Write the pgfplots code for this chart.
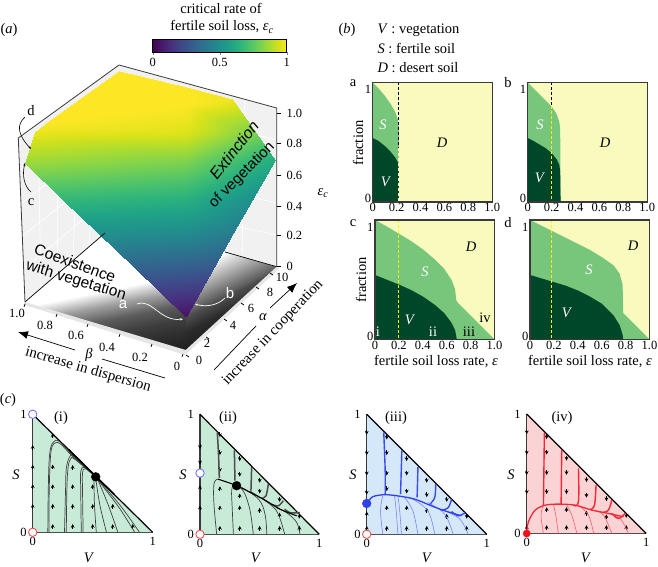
\documentclass[border=0pt]{standalone}
\usepackage{fontspec}
\setmainfont{Liberation Serif}
\newfontfamily\hv{Liberation Sans}
\usepackage{pgfplots}
\pgfplotsset{compat=1.18}
\usetikzlibrary{arrows.meta}

\definecolor{Dsoil}{HTML}{F8FBBD}
\definecolor{Ssoil}{HTML}{78C67C}
\definecolor{Veg}{HTML}{00472A}
\definecolor{wall}{HTML}{F1F1F1}
\definecolor{rimc}{HTML}{E6E6E6}
\definecolor{mint}{HTML}{C8EBD8}
\definecolor{skyb}{HTML}{D4E8FA}
\definecolor{pinkr}{HTML}{FCD3D5}
\definecolor{tblue}{HTML}{1A2BE8}
\definecolor{tred}{HTML}{F0101E}
\definecolor{frame}{HTML}{3A3A3A}

% canvas axis: coordinates are pixels of the reference
\pgfplotsset{
  canvas/.style={at={(0pt,0pt)},anchor=south west,width=658pt,height=567pt,scale only axis,
    xmin=0,xmax=658,ymin=0,ymax=567,y dir=reverse,hide axis,clip=false,
    point meta min=0,point meta max=1},
  tick font/.style={tick label style={font=\fontsize{12.5}{14}\selectfont},
    /pgf/number format/assume math mode=true},
  frac/.style={scale only axis,width=119.5pt,height=119.5pt,anchor=south west,xmin=0,xmax=1,ymin=0,ymax=1,
    xtick={0,0.2,0.4,0.6,0.8,1},xticklabels={0,0.2,0.4,0.6,0.8,1.0},
    ytick={0.03,0.94},yticklabels={0,1},major tick length=0pt,tick font,
    axis line style={frame,line width=1.2pt},axis background/.style={fill=Dsoil},
    xticklabel style={yshift=2pt},yticklabel style={xshift=2pt},clip=true,axis on top},
  simplex/.style={scale only axis,width=120pt,height=120pt,anchor=south west,xmin=0,xmax=1,ymin=0,ymax=1,
    xtick={0,1},ytick={0,1},major tick length=0pt,tick font,axis x line=bottom,axis y line=left,
    axis line style={-,black,line width=1pt},clip=false,
    xticklabel style={yshift=-1pt},yticklabel style={xshift=-2.5pt}},
  up/.style={quiver={u=0,v=0.04},-{Stealth[length=3.8pt,width=3.8pt]},black,line width=1pt,forget plot},
  down/.style={quiver={u=0,v=-0.04},-{Stealth[length=3.8pt,width=3.8pt]},black,line width=1pt,forget plot},
  thick traj/.style={line width=1pt,smooth,tension=.6},
  thin traj/.style={line width=.45pt,smooth,tension=.6},
  fp/.style={only marks,mark=*,mark size=#1,forget plot},
}
\newcommand{\lab}[4][]{\node[#1] at (axis cs:#2,#3) {#4};}

\begin{document}
\begin{tikzpicture}[font=\fontsize{14.5}{16}\selectfont]

% ---- panel a: walls and floor
\begin{axis}[canvas,colormap/blackwhite]
\addplot[fill=wall,draw=none] coordinates {(25,302)(18.3,138)(119,65)(105,233)} -- cycle;
\addplot[fill=wall,draw=none] coordinates {(105,233)(119,65)(276.7,108)(276.7,266.7)} -- cycle;
% white grid on the walls
\foreach \a/\b/\c/\d in {41/288/38/123,57/274/58/109,73/261/79/94,89/247/99/80,
  23.7/269/107.8/199,22.3/236/110.6/166,21/203.6/113.4/132,19.6/171/116.2/99,
  139/240/151/74,174/246/182/82,208/253/214/91,242/260/245/99,
  107.8/199/276.7/235,110.6/166/276.7/203,113.4/132/276.7/171,116.2/99/276.7/140}{
  \edef\tmp{\noexpand\addplot[white,line width=.7pt,forget plot] coordinates {(\a,\b)(\c,\d)};}\tmp
}
% white floor under the shading
\addplot[fill=white,draw=none] coordinates {(25,302)(105,233)(276.7,266.7)(185.7,350)} -- cycle;
% shaded floor, left part
\addplot[patch,patch type=rectangle,shader=interp,point meta=explicit] table[meta=g] {
x y g
34.3 304.7 1
64.4 313.7 0.62
185.7 289.5 0.62
185.7 274.5 1
64.4 313.7 0.62
94.4 322.7 0.36
185.7 304.5 0.36
185.7 289.5 0.62
94.4 322.7 0.36
124.5 331.7 0.24
185.7 319.5 0.24
185.7 304.5 0.36
124.5 331.7 0.24
154.6 340.7 0.17
185.7 334.5 0.17
185.7 319.5 0.24
154.6 340.7 0.17
185.7 350 0.12
185.7 350 0.12
185.7 334.5 0.17
};
% shaded floor, right part
\addplot[patch,patch type=rectangle,shader=interp,point meta=explicit] table[meta=g] {
x y g
185.7 350 0.12
229.1 310.2 0.17
185.7 332 0.17
185.7 350 0.12
229.1 310.2 0.17
265.2 277.2 0.3
185.7 317 0.3
185.7 332 0.17
265.2 277.2 0.3
276.7 266.7 0.38
185.7 312 0.38
185.7 317 0.3
276.7 266.7 0.38
225 252 1
185.7 272 1
185.7 312 0.38
};
\end{axis}

% ---- panel a: surface, edges, ticks
\begin{axis}[canvas,colormap/viridis]
\addplot[fill=rimc,draw=none] coordinates {(25,302)(185.7,350)(276.7,266.7)(279,269)(185,355)(23,304.5)} -- cycle;
% surface: rows of equal height, from the tip to the top
\addplot[patch,patch type=rectangle,shader=interp,point meta=explicit] table[meta=m] {
x y m
133.6 267 0.32
185.7 267 0.3
185.7 233 0.48
98 233 0.5
185.7 267 0.3
214 267 0.28
233.4 233 0.42
185.7 233 0.48
98 233 0.5
185.7 233 0.48
185.7 200 0.63
63.4 200 0.66
185.7 233 0.48
233.4 233 0.42
252 200 0.5
185.7 200 0.63
63.4 200 0.66
185.7 200 0.63
185.7 163 0.8
25 163.3 0.85
185.7 200 0.63
252 200 0.5
275 160 0.62
185.7 163 0.8
25 163.3 0.85
185.7 163 0.8
185.7 133 0.95
35 131.7 0.97
185.7 163 0.8
275 160 0.62
256 133 0.8
185.7 133 0.95
35 131.7 0.97
185.7 133 0.95
185.7 105 1
49.3 121.3 1
185.7 133 0.95
256 133 0.8
231.7 99 0.98
185.7 105 1
};
\addplot[patch,shader=interp,point meta=explicit] table[meta=m] {
x y m
185.7 316.7 0.04
133.6 267 0.32
185.7 267 0.3
185.7 316.7 0.04
185.7 267 0.3
214 267 0.28
49.3 121.3 1
185.7 105 1
119 71 1
185.7 105 1
119 71 1
185.7 87.5 1
185.7 105 1
185.7 87.5 1
231.7 99 0.98
};
\addplot[black,line width=.7pt,forget plot] coordinates {(25,302)(105,233)};
\addplot[black,line width=.7pt,forget plot] coordinates {(225,252)(276.7,266.7)};
\addplot[frame,line width=.8pt,forget plot] coordinates {(25,302)(18.3,138)(119,65)(276.7,108)(276.7,266.7)};
% axis ticks
\foreach \a/\b/\c/\d in {25/304/24/307,57/314/56/317,88/324/87/327,120/334/119/337,152/344/151/347,183/354/182/357,
  186/355/189/357,206/337/209/339,224/319/227/321,241/303/244/305,256/287/259/289,270/273/273/275,
  276.7/266.7/281/266.7,276.7/235/281/235,276.7/206.7/281/206.7,276.7/175/281/175,276.7/143.3/281/143.3,276.7/113.3/281/113.3}{
  \edef\tmp{\noexpand\addplot[black,line width=.7pt,forget plot] coordinates {(\a,\b)(\c,\d)};}\tmp
}
% axis-name rules and arrows
\addplot[black,line width=.7pt,forget plot] coordinates {(102,359)(165,378)};
\addplot[black,line width=.7pt,-{Latex[length=10pt,width=8pt]},forget plot] coordinates {(75,350)(18,332)};
\addplot[black,line width=.7pt,forget plot] coordinates {(214,370)(256,326)};
\addplot[black,line width=.7pt,-{Latex[length=10pt,width=8pt]},forget plot] coordinates {(270,308)(297,283)};
\end{axis}

% ---- colour bar
\begin{axis}[colormap/viridis,scale only axis,at={(152.7pt,515pt)},anchor=south west,width=134pt,height=13pt,
  xmin=0,xmax=1,ymin=0,ymax=1,ytick=\empty,xtick={0,0.5,1},xticklabels={0,0.5,1},tick font,
  xtick align=outside,xtick pos=bottom,major tick length=3pt,axis line style={line width=.9pt},
  point meta min=0,point meta max=1,axis on top]
\addplot[patch,patch type=rectangle,shader=interp,point meta=explicit] table[meta=m] {
x y m
0 0 0
1 0 1
1 1 1
0 1 0
};
\end{axis}

% ---- panel b: stacked fractions
\begin{axis}[frac,at={(372.7pt,365pt)}]
\addplot[fill=Ssoil,draw=none] coordinates {(0,0)(0,1)(0.05,0.95)(0.1,0.89)(0.15,0.82)(0.19,0.75)(0.21,0.69)(0.22,0.62)(0.22,0)} -- cycle;
\addplot[fill=Veg,draw=none] coordinates {(0,0)(0,0.535)(0.05,0.51)(0.1,0.47)(0.15,0.42)(0.19,0.37)(0.21,0.33)(0.22,0.27)(0.22,0)} -- cycle;
\addplot[black,densely dashed,line width=1pt] coordinates {(0.22,1)(0.22,0.45)};
\addplot[Dsoil,densely dashed,line width=1pt] coordinates {(0.22,0.45)(0.22,0)};
\end{axis}
\begin{axis}[frac,at={(527.7pt,365pt)}]
\addplot[fill=Ssoil,draw=none] coordinates {(0,0)(0,1)(0.05,0.95)(0.1,0.9)(0.15,0.85)(0.2,0.8)(0.24,0.74)(0.265,0.67)(0.272,0.6)(0.275,0)} -- cycle;
\addplot[fill=Veg,draw=none] coordinates {(0,0)(0,0.535)(0.05,0.51)(0.1,0.48)(0.15,0.45)(0.2,0.41)(0.24,0.36)(0.265,0.31)(0.272,0.25)(0.275,0)} -- cycle;
\addplot[black,densely dashed,line width=1pt] coordinates {(0.2,1)(0.2,0.8)};
\addplot[yellow,densely dashed,line width=1pt] coordinates {(0.2,0.8)(0.2,0)};
\end{axis}
\begin{axis}[frac,at={(375pt,227.5pt)}]
\addplot[fill=Ssoil,draw=none] coordinates {(0,0)(0,1)(0.1,0.945)(0.2,0.885)(0.3,0.825)(0.4,0.755)(0.5,0.67)(0.58,0.59)(0.64,0.5)(0.67,0.42)(0.68,0.33)(0.69,0.31)(1,0)} -- cycle;
\addplot[fill=Veg,draw=none] coordinates {(0,0)(0,0.54)(0.1,0.5)(0.2,0.46)(0.3,0.415)(0.4,0.36)(0.5,0.29)(0.58,0.22)(0.64,0.14)(0.67,0.08)(0.685,0)} -- cycle;
\addplot[yellow,densely dashed,line width=1pt] coordinates {(0.195,1)(0.195,0)};
\end{axis}
\begin{axis}[frac,at={(530pt,227.5pt)}]
\addplot[fill=Ssoil,draw=none] coordinates {(0,0)(0,1)(0.1,0.95)(0.2,0.9)(0.3,0.85)(0.4,0.8)(0.5,0.75)(0.6,0.69)(0.7,0.62)(0.75,0.55)(0.775,0.46)(0.78,0.22)(1,0)} -- cycle;
\addplot[fill=Veg,draw=none] coordinates {(0,0)(0,0.54)(0.1,0.51)(0.2,0.48)(0.3,0.45)(0.4,0.41)(0.5,0.36)(0.6,0.3)(0.7,0.2)(0.75,0.12)(0.775,0.04)(0.78,0)} -- cycle;
\addplot[yellow,densely dashed,line width=1pt] coordinates {(0.18,1)(0.18,0)};
\end{axis}

% ---- panel c (i)
\begin{axis}[simplex,at={(32.7pt,34.7pt)},width=120pt,height=118pt]
\addplot[fill=mint,draw=none,forget plot] coordinates {(0,0)(1,0)(0,1)} -- cycle;
\addplot[frame,line width=1.5pt,forget plot] coordinates {(0,0)(0,1)};
\addplot[black,line width=1.2pt,forget plot] coordinates {(0,1)(1,0)};
\addplot[up] coordinates {(0,0.2)(0,0.367)(0,0.533)(0,0.7)(0.167,0.03)(0.167,0.2)(0.167,0.367)(0.167,0.533)(0.167,0.8)(0.333,0.03)(0.333,0.2)(0.333,0.367)(0.333,0.53)(0.5,0.03)(0.5,0.2)(0.5,0.367)(0.667,0.03)(0.667,0.2)(0.833,0.03)};
\foreach \p in {{(0.126,0)(0.13,0.37)(0.14,0.65)(0.168,0.76)(0.223,0.77)(0.335,0.65)(0.525,0.47)},
 {(0.135,0)(0.138,0.37)(0.15,0.66)(0.175,0.75)(0.23,0.75)(0.335,0.64)(0.525,0.47)},
 {(0.265,0)(0.274,0.37)(0.28,0.54)(0.307,0.637)(0.35,0.64)(0.525,0.47)},
 {(0.28,0)(0.285,0.37)(0.295,0.55)(0.315,0.62)(0.35,0.62)(0.525,0.47)},
 {(0.405,0)(0.4,0.37)(0.4,0.51)(0.433,0.553)(0.525,0.47)},
 {(0.42,0)(0.415,0.37)(0.415,0.5)(0.44,0.54)(0.525,0.47)},
 {(0.53,0)(0.515,0.23)(0.51,0.46)},{(0.615,0)(0.56,0.23)(0.525,0.46)},{(0.71,0)(0.63,0.23)(0.545,0.44)},
 {(0.85,0)(0.726,0.2)(0.6,0.37)(0.525,0.47)},{(0.89,0)(0.75,0.2)(0.62,0.36)(0.525,0.47)}}{
  \edef\tmp{\noexpand\addplot[black!75,thin traj,line width=.7pt,forget plot] coordinates {\p};}\tmp
}
\addplot[black,line width=1.6pt,forget plot] coordinates {(0.3,0.7)(0.525,0.475)(0.68,0.32)};
\addplot[fp=4.4pt,black] coordinates {(0.525,0.47)};
\addplot[fp=4.2pt,mark options={fill=white,draw=blue!60,line width=.8pt}] coordinates {(0,1)};
\addplot[fp=4.2pt,mark options={fill=white,draw=red!75,line width=.8pt}] coordinates {(0,0)};
\end{axis}

% ---- panel c (ii)
\begin{axis}[simplex,at={(200pt,32.7pt)},width=119.3pt]
\addplot[fill=mint,draw=none,forget plot] coordinates {(0,0)(1,0)(0,1)} -- cycle;
\addplot[frame,line width=1.5pt,forget plot] coordinates {(0,0)(0,1)};
\addplot[black,line width=1.2pt,forget plot] coordinates {(0,1)(1,0)};
\addplot[up] coordinates {(0,0.2)(0,0.37)(0.167,0.03)(0.167,0.2)(0.167,0.36)(0.333,0.03)(0.333,0.2)(0.333,0.3)(0.5,0.03)(0.5,0.18)(0.667,0.03)(0.667,0.14)(0.833,0.03)};
\addplot[down] coordinates {(0,0.75)(0,0.62)(0.167,0.85)(0.167,0.7)(0.167,0.56)(0.333,0.65)(0.333,0.52)(0.5,0.47)(0.5,0.38)(0.667,0.31)(0.833,0.17)};
\foreach \p in {{(0.145,0.85)(0.155,0.67)(0.162,0.47)},{(0.288,0.7)(0.293,0.447)},{(0.433,0.56)(0.427,0.363)},
 {(0.573,0.42)(0.553,0.32)(0.517,0.3)},{(0.698,0.28)(0.656,0.237)(0.6,0.25)},{(0.838,0.18)(0.754,0.18)(0.71,0.21)}}{
  \edef\tmp{\noexpand\addplot[black!70,thick traj,line width=1.5pt,forget plot] coordinates {\p};}\tmp
}
\foreach \p in {{(0.14,0)(0.117,0.25)(0.117,0.42)(0.148,0.46)},{(0.28,0)(0.27,0.22)(0.265,0.36)(0.28,0.42)},
 {(0.447,0)(0.42,0.196)(0.377,0.335)(0.335,0.39)},{(0.56,0)(0.545,0.168)(0.49,0.293)(0.35,0.39)},
 {(0.71,0)(0.656,0.168)(0.587,0.25)(0.42,0.36)},{(0.838,0)(0.81,0.1)(0.726,0.18)(0.64,0.22)}}{
  \edef\tmp{\noexpand\addplot[black!75,thin traj,line width=.7pt,forget plot] coordinates {\p};}\tmp
}
\addplot[black,line width=1.1pt,smooth,forget plot] coordinates {(0.148,0.46)(0.307,0.405)(0.53,0.293)(0.67,0.21)(0.81,0.154)};
\addplot[fp=4.4pt,black] coordinates {(0.307,0.405)};
\addplot[fp=4.2pt,mark options={fill=white,draw=blue!60,line width=.8pt}] coordinates {(0,0.51)};
\addplot[fp=4.2pt,mark options={fill=white,draw=red!75,line width=.8pt}] coordinates {(0,0)};
\end{axis}

% ---- panel c (iii)
\begin{axis}[simplex,at={(366.7pt,32.7pt)}]
\addplot[fill=skyb,draw=none,forget plot] coordinates {(0,0)(1,0)(0,1)} -- cycle;
\addplot[frame,line width=1.5pt,forget plot] coordinates {(0,0)(0,1)};
\addplot[black,line width=1.2pt,forget plot] coordinates {(0,1)(1,0)};
\addplot[up] coordinates {(0,0.03)(0,0.15)(0.167,0.03)(0.167,0.2)(0.333,0.03)(0.333,0.2)(0.5,0.03)(0.5,0.18)(0.667,0.03)(0.667,0.13)(0.833,0.03)};
\addplot[down] coordinates {(0,0.87)(0,0.7)(0,0.53)(0,0.37)(0.167,0.83)(0.167,0.7)(0.167,0.53)(0.167,0.4)(0.333,0.65)(0.333,0.53)(0.333,0.38)(0.5,0.47)(0.5,0.35)(0.667,0.31)(0.833,0.17)};
\foreach \p in {{(0.142,0.85)(0.154,0.53)(0.154,0.335)},{(0.293,0.7)(0.282,0.335)},{(0.427,0.56)(0.42,0.307)},
 {(0.575,0.42)(0.567,0.307)(0.525,0.25)},{(0.707,0.293)(0.68,0.223)(0.623,0.2)},{(0.82,0.18)(0.763,0.154)(0.707,0.19)}}{
  \edef\tmp{\noexpand\addplot[tblue!85,thick traj,line width=1.4pt,forget plot] coordinates {\p};}\tmp
}
\foreach \p in {{(0.134,0)(0.115,0.195)(0.134,0.32)},{(0.26,0)(0.246,0.195)(0.232,0.32)},{(0.29,0)(0.275,0.195)(0.26,0.32)},
 {(0.427,0)(0.385,0.195)(0.316,0.307)},{(0.567,0)(0.51,0.195)(0.37,0.3)},{(0.72,0)(0.65,0.168)(0.51,0.265)},{(0.846,0)(0.777,0.126)(0.65,0.196)}}{
  \edef\tmp{\noexpand\addplot[tblue!60,thin traj,line width=.55pt,forget plot] coordinates {\p};}\tmp
}
\addplot[tblue!90,line width=1.3pt,smooth,forget plot] coordinates {(0,0.257)(0.05,0.313)(0.148,0.33)(0.26,0.32)(0.4,0.293)(0.54,0.237)(0.65,0.196)(0.79,0.154)};
\addplot[fp=4.4pt,tblue!90] coordinates {(0,0.257)};
\addplot[fp=4.2pt,mark options={fill=white,draw=red!75,line width=.8pt}] coordinates {(0,0)};
\end{axis}

% ---- panel c (iv)
\begin{axis}[simplex,at={(526.7pt,33.5pt)},width=119.5pt,height=119.5pt]
\addplot[fill=pinkr,draw=none,forget plot] coordinates {(0,0)(1,0)(0,1)} -- cycle;
\addplot[frame,line width=1.5pt,forget plot] coordinates {(0,0)(0,1)};
\addplot[black,line width=1.2pt,forget plot] coordinates {(0,1)(1,0)};
\addplot[up] coordinates {(0,0.03)(0.167,0.03)(0.167,0.18)(0.333,0.03)(0.333,0.18)(0.5,0.03)(0.5,0.15)(0.667,0.03)(0.667,0.12)(0.833,0.03)};
\addplot[down] coordinates {(0,0.87)(0,0.7)(0,0.53)(0,0.37)(0.167,0.83)(0.167,0.7)(0.167,0.53)(0.167,0.37)(0.333,0.65)(0.333,0.53)(0.333,0.37)(0.5,0.47)(0.5,0.34)(0.667,0.31)(0.833,0.17)};
\foreach \p in {{(0.148,0.84)(0.14,0.237)},{(0.293,0.7)(0.288,0.246)},{(0.433,0.545)(0.433,0.265)(0.39,0.237)},
 {(0.58,0.405)(0.567,0.237)(0.53,0.2)},{(0.712,0.28)(0.684,0.196)(0.634,0.176)},{(0.824,0.168)(0.768,0.126)(0.712,0.168)}}{
  \edef\tmp{\noexpand\addplot[tred!90,thick traj,line width=1.4pt,forget plot] coordinates {\p};}\tmp
}
\foreach \p in {{(0.14,0)(0.12,0.154)(0.14,0.237)},{(0.265,0)(0.243,0.154)(0.223,0.243)},{(0.42,0)(0.377,0.154)(0.335,0.237)},
 {(0.56,0)(0.517,0.154)(0.433,0.237)},{(0.712,0)(0.642,0.154)(0.56,0.196)},{(0.852,0)(0.782,0.126)(0.684,0.168)}}{
  \edef\tmp{\noexpand\addplot[tred!70,thin traj,line width=.55pt,forget plot] coordinates {\p};}\tmp
}
\addplot[tred!90,line width=1.3pt,smooth,forget plot] coordinates {(0,0)(0.014,0.098)(0.07,0.195)(0.154,0.237)(0.265,0.246)(0.405,0.237)(0.545,0.196)(0.684,0.168)(0.81,0.14)};
\addplot[fp=3.6pt,tred] coordinates {(0,0)};
\end{axis}

% ---- all labels, in reference pixels
\begin{axis}[canvas]
\lab{9}{30}{(\textit{a})}
\lab{347}{30}{(\textit{b})}
\lab{8}{400}{(\textit{c})}
\lab{221}{8}{critical rate of}
\lab{222}{27}{fertile soil loss, \textit{ε}\textsubscript{\textit{c}}}
\node[anchor=west] at (axis cs:374,30) {\textit{V} : vegetation};
\node[anchor=west] at (axis cs:374,48) {\textit{S} : fertile soil};
\node[anchor=west] at (axis cs:374,68) {\textit{D} : desert soil};
% panel a tick labels
\foreach \x/\y/\t in {17/313/1.0,45/325/0.8,76/335/0.6,107/347/0.4,140/357/0.2,177/366/0,
  199/360/0,207/343/2,233/325/4,251/308/6,270/292/8,282/277/10}{
  \edef\tmp{\noexpand\node[font=\noexpand\fontsize{12.5}{14}\noexpand\selectfont] at (axis cs:\x,\y) {\t};}\tmp
}
\foreach \y/\t in {266.7/0,235/0.2,206.7/0.4,175/0.6,143.3/0.8,113.3/1.0}{
  \edef\tmp{\noexpand\node[anchor=west,font=\noexpand\fontsize{12.5}{14}\noexpand\selectfont] at (axis cs:283,\y) {\t};}\tmp
}
\lab{323}{193}{\textit{ε}\textsubscript{\textit{c}}}
\lab{89}{355}{\textit{β}}
\lab{263}{317}{\textit{α}}
\lab[rotate=-16,font=\fontsize{15}{16}\selectfont]{88}{370}{increase in dispersion}
\lab[rotate=46.5,font=\fontsize{15}{16}\selectfont]{273}{333}{increase in cooperation}
\lab[rotate=52,font=\hv\itshape\fontsize{16}{17}\selectfont]{234}{150}{Extinction}
\lab[rotate=45,font=\hv\fontsize{15}{16}\selectfont]{242}{175}{of vegetation}
\lab[rotate=-20,font=\hv\fontsize{15.5}{16}\selectfont]{75}{263}{Coexistence}
\lab[rotate=-17,font=\hv\fontsize{15.5}{16}\selectfont]{76}{281}{with vegetation}
\lab[white,font=\hv\fontsize{15}{16}\selectfont]{123}{305}{a}
\lab[white,font=\hv\fontsize{15}{16}\selectfont]{230}{293}{b}
\lab{31}{111}{d}
\lab{31}{202}{c}
\draw[white,line width=.7pt,-{Stealth[length=3pt]}] (axis cs:137,304) .. controls (152,298) and (160,322) .. (183,319);
\draw[white,line width=.7pt,-{Stealth[length=3pt]}] (axis cs:225,298) .. controls (217,306) and (205,307) .. (195,304);
\draw[black,line width=.6pt,-{Stealth[length=3pt]}] (axis cs:25,117) .. controls (16,125) and (18,135) .. (31,149);
\draw[black,line width=.6pt,-{Stealth[length=3pt]}] (axis cs:31,192) .. controls (24,186) and (22,175) .. (25,163);
% panel b labels
\lab{353}{83}{a}
\lab{508}{83}{b}
\lab{353}{223}{c}
\lab{508}{223}{d}
\lab[white]{383}{125}{\textit{S}}
\lab[white]{386}{182}{\textit{V}}
\lab{442}{143}{\textit{D}}
\lab[white]{540}{125}{\textit{S}}
\lab[white]{540}{178}{\textit{V}}
\lab{605}{143}{\textit{D}}
\lab[white]{425}{272}{\textit{S}}
\lab[white]{410}{320}{\textit{V}}
\lab{471}{247}{\textit{D}}
\lab[white]{378}{332}{i}
\lab[white]{433}{332}{ii}
\lab{469}{332}{iii}
\lab{485}{318}{iv}
\lab[white]{589}{270}{\textit{S}}
\lab[white]{567}{313}{\textit{V}}
\lab{633}{246}{\textit{D}}
\lab[rotate=90]{358}{143}{fraction}
\lab[rotate=90]{361}{280}{fraction}
\lab{436}{362}{fertile soil loss rate, \textit{ε}}
\lab{590}{362}{fertile soil loss rate, \textit{ε}}
% panel c labels
\foreach \x/\y/\t in {16/475/S,89/558/V,183/475/S,256/558/V,353/475/S,427/558/V,511/475/S,586/558/V}{
  \edef\tmp{\noexpand\node at (axis cs:\x,\y) {\noexpand\textit{\t}};}\tmp
}
\lab{61}{418}{(i)}
\lab{228}{418}{(ii)}
\lab{396}{418}{(iii)}
\lab{562}{418}{(iv)}
\end{axis}
\pgfresetboundingbox
\path[use as bounding box] (0,0) rectangle (658pt,567pt);
\end{tikzpicture}
\end{document}
